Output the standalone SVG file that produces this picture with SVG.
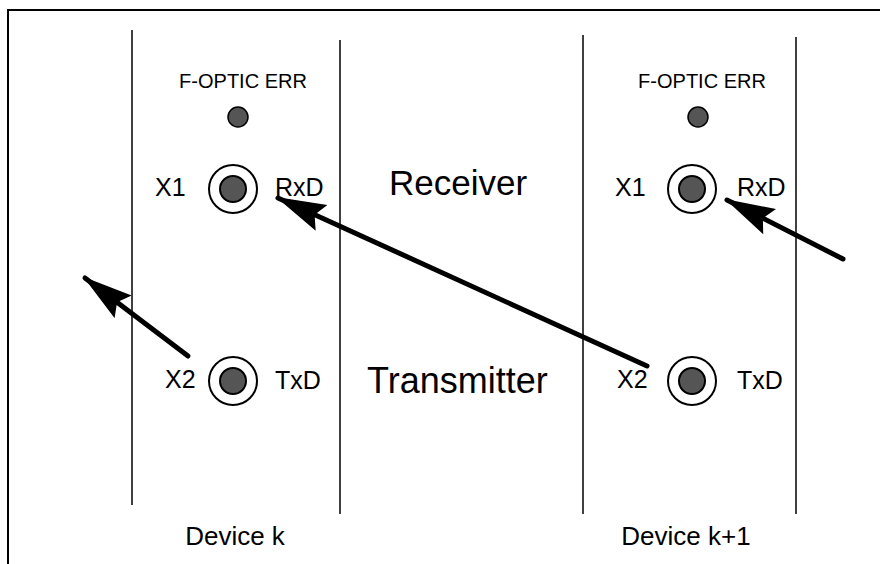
<svg xmlns="http://www.w3.org/2000/svg" width="880" height="564" viewBox="0 0 880 564">
<defs>
<style>
.t{font-family:"Liberation Sans",Arial,sans-serif;fill:#000}
.vl{stroke:#000;stroke-width:1.5;fill:none}
.outer{fill:#fff;stroke:#000;stroke-width:2}
.inner{fill:#555;stroke:#000;stroke-width:2}
.led{fill:#555;stroke:#000;stroke-width:1.5}
.arr{stroke:#000;stroke-width:5;stroke-linecap:round;fill:none}
</style>
<marker id="ah" markerUnits="userSpaceOnUse" markerWidth="50" markerHeight="30" refX="44" refY="13" orient="auto" viewBox="0 0 46 26">
<path d="M0,0 L46,13 L0,26 L7,13 Z" fill="#000"/>
</marker>
</defs>
<rect width="880" height="564" fill="#fff"/>
<path d="M8,564 V10 H880" fill="none" stroke="#000" stroke-width="2"/>
<g id="panels">
<line class="vl" x1="132" y1="30" x2="132" y2="505"/>
<line class="vl" x1="340" y1="40" x2="340" y2="514"/>
<line class="vl" x1="583" y1="35" x2="583" y2="514"/>
<line class="vl" x1="796" y1="37" x2="796" y2="514"/>
</g>
<g id="device-k">
<text class="t" x="243" y="88" font-size="20" text-anchor="middle">F-OPTIC ERR</text>
<circle class="led" cx="238" cy="117" r="10"/>
<text class="t" x="235" y="545" font-size="26" text-anchor="middle">Device k</text>
</g>
<g id="device-k-x1">
<text class="t" x="155" y="196" font-size="25">X1</text>
<circle class="outer" cx="233" cy="189" r="24"/>
<circle class="inner" cx="233" cy="189" r="13"/>
<text class="t" x="275" y="196" font-size="25">RxD</text>
</g>
<g id="device-k-x2">
<text class="t" x="165" y="388" font-size="25">X2</text>
<circle class="outer" cx="233" cy="381" r="24"/>
<circle class="inner" cx="233" cy="381" r="13"/>
<text class="t" x="275" y="389" font-size="25">TxD</text>
</g>
<g id="labels">
<text class="t" x="389" y="195" font-size="35">Receiver</text>
<text class="t" x="367" y="393" font-size="36">Transmitter</text>
</g>
<g id="device-k1">
<text class="t" x="702" y="88" font-size="20" text-anchor="middle">F-OPTIC ERR</text>
<circle class="led" cx="698" cy="117" r="10"/>
<text class="t" x="686" y="545" font-size="26" text-anchor="middle">Device k+1</text>
</g>
<g id="device-k1-x1">
<text class="t" x="615" y="196" font-size="25">X1</text>
<circle class="outer" cx="692" cy="189" r="24"/>
<circle class="inner" cx="692" cy="189" r="13"/>
<text class="t" x="737" y="196" font-size="25">RxD</text>
</g>
<g id="device-k1-x2">
<text class="t" x="617" y="388" font-size="25">X2</text>
<circle class="outer" cx="692" cy="381" r="24"/>
<circle class="inner" cx="692" cy="381" r="13"/>
<text class="t" x="737" y="389" font-size="25">TxD</text>
</g>
<g id="connectors">
<line class="arr" x1="188" y1="356" x2="85" y2="278" marker-end="url(#ah)"/>
<line class="arr" x1="647" y1="366" x2="278" y2="198" marker-end="url(#ah)"/>
<line class="arr" x1="843" y1="259" x2="727" y2="200" marker-end="url(#ah)"/>
</g>
</svg>
